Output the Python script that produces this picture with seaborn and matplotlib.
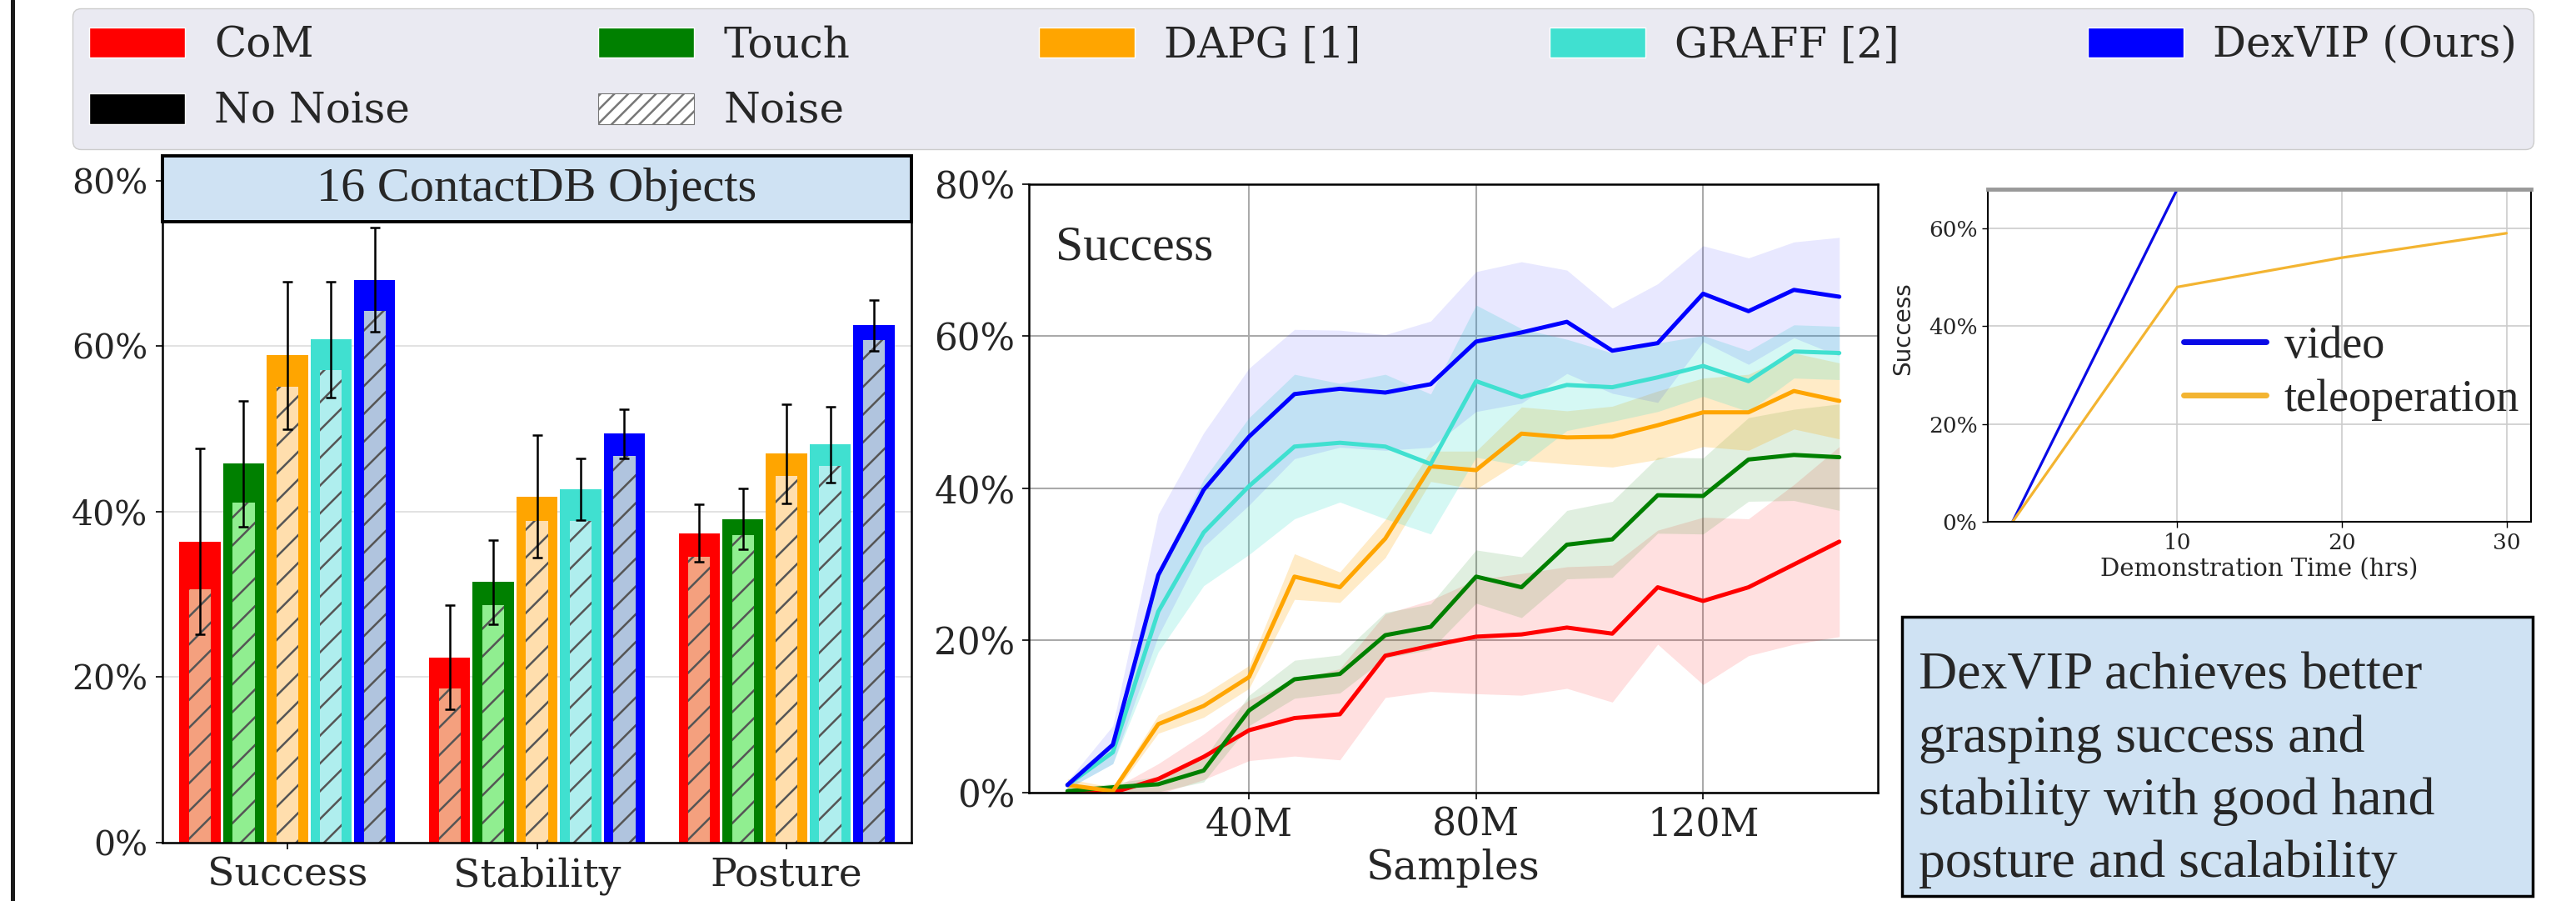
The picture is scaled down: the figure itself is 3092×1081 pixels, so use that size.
import matplotlib
matplotlib.use('Agg')
import matplotlib.pyplot as plt
from matplotlib.patches import Patch, Rectangle
from matplotlib.lines import Line2D
from matplotlib.ticker import FuncFormatter
import seaborn as sns
import pandas as pd
import numpy as np

sns.set_theme(style='whitegrid')
plt.rcParams['font.family'] = ['DejaVu Serif']
plt.rcParams['hatch.linewidth'] = 1.8

# ---------------- data ----------------
methods = ['CoM', 'Touch', 'DAPG [1]', 'GRAFF [2]', 'DexVIP (Ours)']
metrics = ['Success', 'Stability', 'Posture']
solid_colors = ['#FF0000', '#008000', '#FFA500', '#40E0D0', '#0000FF']
noise_colors = ['#F4A07E', '#90EE90', '#FFDEAD', '#AFEEEE', '#B0C4DE']

# bar chart (%), one value per method
no_noise_success = [36.4, 45.8, 58.9, 60.8, 68.0]
no_noise_stability = [22.4, 31.5, 41.8, 42.7, 49.4]
no_noise_posture = [37.4, 39.1, 47.0, 48.1, 62.5]
noise_success = [30.6, 41.1, 55.1, 57.1, 64.3]
noise_stability = [18.6, 28.7, 38.9, 38.9, 46.7]
noise_posture = [34.5, 37.2, 44.3, 45.5, 60.7]
err_success = [11.2, 7.6, 8.9, 7.0, 6.3]
err_stability = [6.3, 5.1, 7.4, 3.7, 3.0]
err_posture = [3.5, 3.7, 6.0, 4.6, 3.1]

# learning curves (samples in millions, success in %)
samples_m = [8, 16, 24, 32, 40, 48, 56, 64, 72, 80, 88, 96, 104, 112, 120, 128, 136, 144]
com_mean = [0.0, 0.0, 1.8, 4.7, 8.2, 9.8, 10.3, 18.0, 19.3, 20.5, 20.8, 21.7, 20.9, 27.0, 25.2, 27.0, 30.0, 33.0]
com_std = [0.5, 0.5, 2.0, 3.0, 4.0, 5.0, 6.0, 5.5, 6.0, 7.5, 8.0, 8.0, 9.0, 7.5, 11.0, 9.0, 10.5, 12.5]
touch_mean = [0.2, 0.7, 1.1, 2.9, 10.8, 14.9, 15.6, 20.7, 21.8, 28.4, 27.0, 32.6, 33.3, 39.1, 39.0, 43.8, 44.4, 44.1]
touch_std = [0.3, 0.5, 1.0, 1.5, 2.0, 2.5, 2.5, 3.0, 3.0, 3.5, 4.0, 4.5, 5.0, 5.0, 5.0, 5.5, 6.0, 7.0]
dapg_mean = [1.0, 0.2, 9.0, 11.4, 15.2, 28.4, 27.0, 33.4, 42.9, 42.4, 47.2, 46.7, 46.8, 48.3, 50.0, 50.0, 52.8, 51.5]
dapg_std = [0.8, 0.5, 1.2, 1.5, 1.5, 3.0, 2.0, 2.5, 2.0, 2.5, 3.5, 3.5, 4.0, 4.5, 4.5, 5.0, 5.0, 5.0]
graff_mean = [1.0, 5.3, 23.8, 34.2, 40.3, 45.5, 46.0, 45.5, 43.2, 54.1, 52.0, 53.6, 53.3, 54.6, 56.1, 54.1, 58.0, 57.8]
graff_std = [0.5, 1.5, 5.3, 7.0, 9.0, 9.5, 7.8, 9.5, 9.2, 10.0, 9.0, 6.0, 4.5, 4.5, 4.0, 4.0, 3.5, 3.5]
dexvip_mean = [1.0, 6.3, 28.6, 39.8, 46.8, 52.4, 53.1, 52.6, 53.7, 59.3, 60.5, 61.9, 58.1, 59.1, 65.6, 63.3, 66.1, 65.2]
dexvip_std = [0.5, 2.5, 8.0, 7.5, 9.0, 8.5, 7.7, 7.6, 8.3, 9.2, 9.3, 6.8, 5.6, 7.8, 6.3, 7.0, 6.3, 7.8]
band_alpha = [0.12, 0.12, 0.22, 0.22, 0.09]

# demonstration time vs success
video_hours = [0, 10]
video_success = [0, 68]
tele_hours = [0, 10, 20, 30]
tele_success = [0, 48, 54, 59]

# ---------------- figure ----------------
fig = plt.figure(figsize=(30.92, 10.81), dpi=100)
ax1 = fig.add_axes([0.0631, 0.0648, 0.2907, 0.7623])
ax2 = fig.add_axes([0.3994, 0.1203, 0.3296, 0.6753])
ax3 = fig.add_axes([0.7717, 0.4209, 0.2109, 0.3691])

pct = FuncFormatter(lambda v, p: f'{v:.0f}%')

# ---- left: grouped bars (solid = no noise, narrow hatched = noise) ----
bar_df = pd.DataFrame({
    'metric': np.repeat(metrics, len(methods)),
    'method': methods * len(metrics),
    'no_noise': no_noise_success + no_noise_stability + no_noise_posture,
    'noise': noise_success + noise_stability + noise_posture,
    'err': err_success + err_stability + err_posture,
})
sns.barplot(data=bar_df, x='metric', y='no_noise', hue='method', hue_order=methods,
            palette=dict(zip(methods, solid_colors)), width=0.875, gap=0.06,
            saturation=1, errorbar=None, legend=False, linewidth=0, ax=ax1)
solid_conts = list(ax1.containers)
sns.barplot(data=bar_df, x='metric', y='noise', hue='method', hue_order=methods,
            palette=dict(zip(methods, noise_colors)), width=0.875, gap=0.5,
            saturation=1, errorbar=None, legend=False, linewidth=0,
            edgecolor='#555555', hatch='/', ax=ax1)
for cont, m in zip(solid_conts, methods):
    sub = bar_df[bar_df['method'] == m]
    patches = sorted(cont.patches, key=lambda p: p.get_x())
    xs = [p.get_x() + p.get_width() / 2 for p in patches]
    ax1.errorbar(xs, sub['no_noise'].values, yerr=sub['err'].values, fmt='none',
                 ecolor='black', elinewidth=1.8, capsize=4, capthick=1.8, zorder=5)

ax1.set_xlim(-0.5, 2.5)
ax1.set_ylim(0, 83)
ax1.set_yticks([0, 20, 40, 60, 80])
ax1.yaxis.set_major_formatter(pct)
ax1.set_xlabel('')
ax1.set_ylabel('')
ax1.xaxis.grid(False)
ax1.yaxis.grid(True, color='#DDDDDD', lw=1.2)
ax1.tick_params(axis='x', labelsize=34, length=6, width=1.2, color='black', pad=6)
ax1.tick_params(axis='y', labelsize=29.5, length=6, width=1.2, color='black', pad=7)
ax1.tick_params(left=True, bottom=True)
for s in ['left', 'bottom', 'right']:
    ax1.spines[s].set_color('black')
    ax1.spines[s].set_linewidth(1.8)
ax1.spines['top'].set_visible(False)
ax1.add_patch(Rectangle((0, 75), 1, 8, transform=ax1.get_yaxis_transform(),
                        facecolor='#CFE2F3', edgecolor='black', lw=2.8, zorder=6, clip_on=False))
ax1.text(0.5, 79, '16 ContactDB Objects', transform=ax1.get_yaxis_transform(),
         ha='center', va='center', fontsize=42, family='Liberation Serif', zorder=7)

# ---- middle: learning curves ----
means = [com_mean, touch_mean, dapg_mean, graff_mean, dexvip_mean]
stds = [com_std, touch_std, dapg_std, graff_std, dexvip_std]
for m, s, c, a in zip(means, stds, solid_colors, band_alpha):
    mm, ss = np.array(m), np.array(s)
    ax2.fill_between(samples_m, mm - ss, mm + ss, color=c, alpha=a, lw=0)
line_df = pd.DataFrame({
    'samples': samples_m * len(methods),
    'success': sum(means, []),
    'method': np.repeat(methods, len(samples_m)),
})
sns.lineplot(data=line_df, x='samples', y='success', hue='method', hue_order=methods,
             palette=dict(zip(methods, solid_colors)), lw=3.6, legend=False,
             errorbar=None, ax=ax2)
ax2.set_ylim(0, 80)
ax2.set_yticks([0, 20, 40, 60, 80])
ax2.yaxis.set_major_formatter(pct)
ax2.set_xticks([40, 80, 120])
ax2.xaxis.set_major_formatter(FuncFormatter(lambda v, p: f'{v:.0f}M'))
ax2.set_xlabel('Samples', fontsize=35)
ax2.set_ylabel('')
ax2.grid(True, color='#AAAAAA', lw=1.5)
ax2.tick_params(axis='x', labelsize=33, length=6, width=1.2, color='black', pad=6, bottom=True)
ax2.tick_params(axis='y', labelsize=31.5, length=6, width=1.2, color='black', pad=6, left=True)
for s in ax2.spines.values():
    s.set_color('black')
    s.set_linewidth(1.8)
ax2.text(0.031, 0.876, 'Success', transform=ax2.transAxes, ha='left', va='baseline',
         fontsize=43, family='Liberation Serif')

# ---- right: demonstration time ----
demo_df = pd.DataFrame({
    'hours': video_hours + tele_hours,
    'success': video_success + tele_success,
    'source': ['video'] * len(video_hours) + ['teleoperation'] * len(tele_hours),
})
sns.lineplot(data=demo_df, x='hours', y='success', hue='source',
             palette={'video': '#0A0AE6', 'teleoperation': '#F3B431'}, lw=2.3,
             errorbar=None, ax=ax3)
ax3.set_ylim(0, 68)
ax3.set_yticks([0, 20, 40, 60])
ax3.yaxis.set_major_formatter(pct)
ax3.set_xticks([10, 20, 30])
ax3.set_xlabel('Demonstration Time (hrs)', fontsize=21)
ax3.set_ylabel('Success', fontsize=20, family='DejaVu Sans')
ax3.yaxis.set_label_coords(-0.135, 0.58)
ax3.grid(True, color='#CCCCCC', lw=1.2)
ax3.tick_params(axis='both', labelsize=19, length=5, width=1, color='black', pad=4,
                left=True, bottom=True)
for s in ['left', 'bottom', 'right']:
    ax3.spines[s].set_color('black')
    ax3.spines[s].set_linewidth(1.5)
ax3.spines['top'].set_color('#999999')
ax3.spines['top'].set_linewidth(3.5)
leg3 = ax3.legend(frameon=False, prop={'family': 'Liberation Serif', 'size': 39},
                  loc='upper left', bbox_to_anchor=(0.36, 0.59), handlelength=1.83,
                  handletextpad=0.4, labelspacing=0.25, borderpad=0, borderaxespad=0)
for ln in leg3.get_lines():
    ln.set_linewidth(5)

# ---- text box ----
fig.patches.append(Rectangle((0.7384, 0.0056), 0.2448, 0.3099, transform=fig.transFigure,
                             facecolor='#CFE2F3', edgecolor='black', lw=2.5))
fig.text(0.7448, 0.145, 'DexVIP achieves better\ngrasping success and\n'
         'stability with good hand\nposture and scalability',
         ha='left', va='center', fontsize=46, family='Liberation Serif', linespacing=1.38)

# ---- left border line ----
fig.add_artist(Line2D([0.0047, 0.0047], [0, 1], transform=fig.transFigure,
                      color='#1A1A1A', lw=3.6))

# ---- top legend ----
handles = [
    Patch(facecolor=solid_colors[0], label=methods[0]),
    Patch(facecolor='black', label='No Noise'),
    Patch(facecolor=solid_colors[1], label=methods[1]),
    Patch(facecolor='white', edgecolor='#777777', hatch='//', lw=0.8, label='Noise'),
    Patch(facecolor=solid_colors[2], label=methods[2]),
    Patch(facecolor=solid_colors[3], label=methods[3]),
    Patch(facecolor=solid_colors[4], label=methods[4]),
]
fig.legend(handles=handles, ncol=5, mode='expand', loc='upper left',
           bbox_to_anchor=(0.0281, 0.8316, 0.9554, 0.1591), borderaxespad=0,
           prop={'family': 'DejaVu Serif', 'size': 36}, handlelength=2.3,
           handleheight=0.75, handletextpad=0.7, labelspacing=0.6, borderpad=0.4,
           facecolor='#EAEAF2', edgecolor='#CCCCCC', framealpha=1, fancybox=True)

fig.savefig('out.png', dpi=100)
plt.close(fig)
